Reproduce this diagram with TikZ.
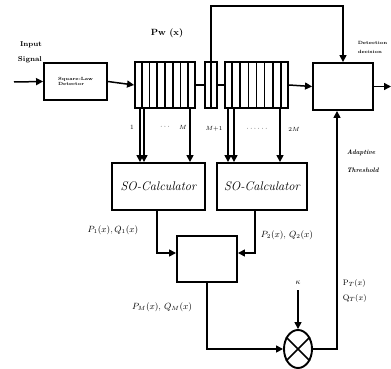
\documentclass[tikz,border=0pt]{standalone}
\usetikzlibrary{arrows.meta,calc,shapes.geometric}
\begin{document}
\begin{tikzpicture}[x=1pt,y=-1pt,
  line width=1.5pt,
  box/.style={draw,rectangle,inner sep=0pt,line width=1.9pt},
  arr/.style={-{Triangle[length=7pt,width=7pt]}},
  lbl/.style={inner sep=0pt},
  divl/.style={line width=1.6pt}]
\useasboundingbox (0,0) rectangle (391,369);
% blocks
\node[box,minimum width=63pt,minimum height=37pt] (det) at (75.5,81.5) {};
\node[lbl,font=\fontsize{4.5}{5}\selectfont\bfseries,align=left] at (det.center) {Square-Law\\Detector};
\node[box,minimum width=60pt,minimum height=46pt] (reg1) at (165,85) {};
\node[box,minimum width=12pt,minimum height=46pt] (cell) at (211,85) {};
\node[box,minimum width=63pt,minimum height=46pt] (reg2) at (256.5,85) {};
\node[box,minimum width=60pt,minimum height=47pt] (dec) at (343,86.5) {};
\node[box,minimum width=93pt,minimum height=47pt,font=\fontsize{12.5}{14}\selectfont\itshape] (so1) at (158.5,186.5) {SO-Calculator};
\node[box,minimum width=90pt,minimum height=47pt,font=\fontsize{12.5}{14}\selectfont\itshape] (so2) at (262,186.5) {SO-Calculator};
\node[box,minimum width=60pt,minimum height=46pt] (comb) at (207,259) {};
\node[draw,ellipse,line width=1.9pt,inner sep=0pt,minimum width=28pt,minimum height=38pt] (mul) at (298,349) {};
\draw[line width=1.5pt] (mul.45) -- (mul.225) (mul.135) -- (mul.315);
% register dividers
\foreach \i in {1,...,7}{
  \draw[divl] ($(reg1.south west)!\i/8!(reg1.south east)$) -- ($(reg1.north west)!\i/8!(reg1.north east)$);
  \draw[divl] ($(reg2.south west)!\i/8!(reg2.south east)$) -- ($(reg2.north west)!\i/8!(reg2.north east)$);
}
\draw[divl] (cell.south) -- (cell.north);
% signal path
\coordinate (in) at (14,82);
\coordinate (out) at (391,86.5);
\draw[arr] (in) -- (det.west);
\draw[arr] (det.east) -- (reg1.west);
\draw (reg1.east) -- (cell.west);
\draw (cell.east) -- (reg2.west);
\draw[arr] (reg2.east) -- (dec.west);
\draw[arr] (dec.east) -- (out);
\draw[arr] (cell.north) -- ++(0,-55) -| (dec.north);
% register taps
\draw[arr] ([xshift=-25pt]reg1.south) -- ([xshift=-25pt]reg1.south |- so1.north);
\draw[arr] ([xshift=-21pt]reg1.south) -- ([xshift=-21pt]reg1.south |- so1.north);
\draw[arr] ([xshift=25pt]reg1.south) -- ([xshift=25pt]reg1.south |- so1.north);
\draw[arr] ([xshift=-28.5pt]reg2.south) -- ([xshift=-28.5pt]reg2.south |- so2.north);
\draw[arr] ([xshift=-22.5pt]reg2.south) -- ([xshift=-22.5pt]reg2.south |- so2.north);
\draw[arr] ([xshift=23.5pt]reg2.south) -- ([xshift=23.5pt]reg2.south |- so2.north);
% SO to combiner
\draw[arr] ([xshift=-1.5pt]so1.south) |- ([yshift=6pt]comb.west);
\draw[arr] ([xshift=-7pt]so2.south) |- ([yshift=6pt]comb.east);
\draw[arr] (comb.south) |- (mul.west);
\draw[arr] (mul.east) -| ([xshift=-6pt]dec.south);
\coordinate (k) at (298,290);
\draw[arr] (k) -- (mul.north);
% labels
\node[lbl,font=\fontsize{7}{8}\selectfont\bfseries] at (31,45) {Input};
\node[lbl,font=\fontsize{7}{8}\selectfont\bfseries] at (30,60) {Signal};
\node[lbl,font=\fontsize{9}{10}\selectfont\bfseries] at (167,33) {Pw (x)};
\node[lbl,font=\fontsize{6.5}{7}\selectfont] at (132,127) {1};
\node[lbl,font=\fontsize{7}{8}\selectfont\bfseries] at (165,127) {$\cdots$};
\node[lbl,font=\fontsize{6.5}{7}\selectfont] at (183,127) {$M$};
\node[lbl,font=\fontsize{6.5}{7}\selectfont] at (214,129) {$M{+}1$};
\node[lbl,font=\fontsize{7}{8}\selectfont\bfseries] at (257,129) {$\cdots\cdots$};
\node[lbl,font=\fontsize{6.5}{7}\selectfont] at (294,129) {$2M$};
\node[lbl,anchor=west,font=\fontsize{4.6}{5}\selectfont\bfseries] at (357,43) {Detection};
\node[lbl,anchor=west,font=\fontsize{4.6}{5}\selectfont\bfseries] at (357,52) {decision};
\node[lbl,anchor=west,font=\fontsize{6.5}{7}\selectfont\itshape\bfseries] at (346,153) {Adaptive};
\node[lbl,anchor=west,font=\fontsize{6.5}{7}\selectfont\itshape\bfseries] at (346,170) {Threshold};
\node[lbl,font=\fontsize{9}{10}\selectfont] at (113,230) {$P_1(x), Q_1(x)$};
\node[lbl,font=\fontsize{9}{10}\selectfont] at (287,235) {$P_2(x),\,Q_2(x)$};
\node[lbl,font=\fontsize{9}{10}\selectfont] at (162,307) {$P_M(x),\,Q_M(x)$};
\node[lbl,anchor=west,font=\fontsize{8.5}{10}\selectfont] at (342,283) {$\mathrm{P}_T(x)$};
\node[lbl,anchor=west,font=\fontsize{8.5}{10}\selectfont] at (342,298) {$\mathrm{Q}_T(x)$};
\node[lbl,font=\fontsize{8}{9}\selectfont] at (298,283) {$\kappa$};
\end{tikzpicture}
\end{document}
